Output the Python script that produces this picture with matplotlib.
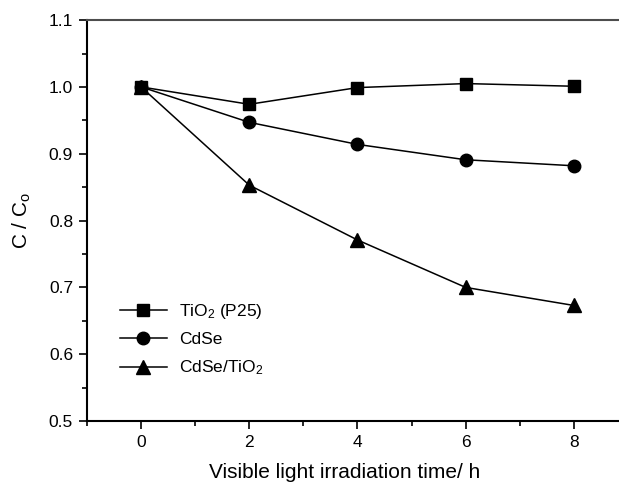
import matplotlib
matplotlib.use('Agg')
import matplotlib.pyplot as plt
from matplotlib.ticker import MultipleLocator

plt.rcParams['font.family'] = ['Liberation Sans', 'DejaVu Sans']
plt.rcParams['mathtext.fontset'] = 'custom'
plt.rcParams['mathtext.rm'] = 'Liberation Sans'
plt.rcParams['mathtext.default'] = 'regular'

# data
hours = [0, 2, 4, 6, 8]
tio2 = [1.000, 0.974, 0.999, 1.005, 1.001]
cdse = [1.000, 0.947, 0.914, 0.891, 0.882]
cdse_tio2 = [1.000, 0.853, 0.771, 0.700, 0.673]

labels = ['TiO$_2$ (P25)', 'CdSe', 'CdSe/TiO$_2$']

fig = plt.figure(figsize=(6.19, 4.84), dpi=100, facecolor='w')
ax = fig.add_axes([0.1405, 0.130, 0.874, 0.8285])

ax.plot(hours, tio2, 'k-s', lw=1.1, ms=8.5, label=labels[0])
ax.plot(hours, cdse, 'k-o', lw=1.1, ms=9, label=labels[1])
ax.plot(hours, cdse_tio2, 'k-^', lw=1.1, ms=10, label=labels[2])

ax.set_xlim(-1, 9)
ax.set_ylim(0.5, 1.1)
ax.xaxis.set_major_locator(MultipleLocator(2))
ax.xaxis.set_minor_locator(MultipleLocator(1))
ax.yaxis.set_major_locator(MultipleLocator(0.1))
ax.yaxis.set_minor_locator(MultipleLocator(0.05))
ax.yaxis.set_major_formatter(matplotlib.ticker.FormatStrFormatter('%.1f'))

ax.tick_params(which='both', direction='out', top=False, right=False,
               labelsize=12.5, width=1.2)
ax.tick_params(which='major', length=6, pad=4)
ax.tick_params(which='minor', length=3.5)
for s in ax.spines.values():
    s.set_linewidth(1.5)
ax.spines['top'].set_color('0.3')

ax.set_xlabel('Visible light irradiation time/ h', fontsize=15)
ax.xaxis.set_label_coords(0.477, -0.105)
ax.set_ylabel('C / C$_o$', fontsize=15, labelpad=11)

ax.legend(loc='upper left', bbox_to_anchor=(120 / 619, 1 - 302 / 484),
          bbox_transform=fig.transFigure, frameon=False, fontsize=12.5,
          borderpad=0, borderaxespad=0, handlelength=2.7,
          handletextpad=0.7, labelspacing=0.65)

fig.savefig('out.png', dpi=100)
